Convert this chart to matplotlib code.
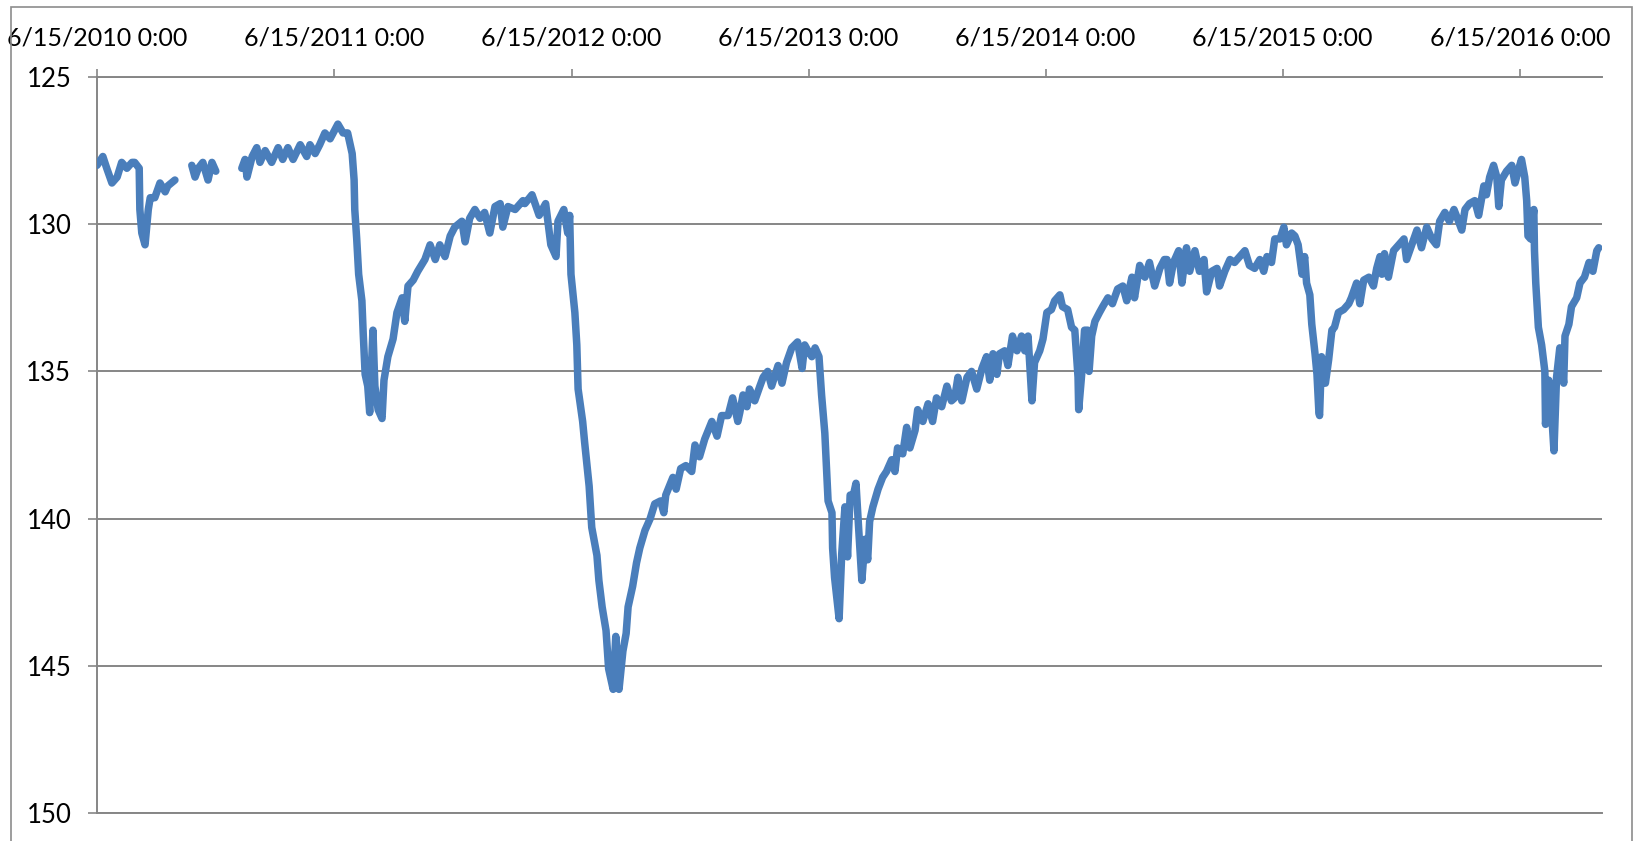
import numpy as np
import pandas as pd
import matplotlib
matplotlib.use('Agg')
import matplotlib.pyplot as plt
import matplotlib.dates as mdates
from matplotlib.patches import Rectangle

# --- Data (Excel serial dates; NaN = gap in record) ---
serial_dates = [
    40344, 40353, 40359, 40367, 40375, 40382, 40390, 40398, 40402, 40409,
    40410, 40413, 40418, 40423, 40426, 40433, 40441, 40449, 40453, 40464,
    40477,
    40490, 40495, 40500, 40507, 40515, 40521, 40527,
    40547,
    40567, 40572, 40575, 40583, 40590, 40595, 40603, 40613, 40623, 40630,
    40638, 40646, 40657, 40667,
    40672, 40680, 40687, 40695, 40703, 40715, 40723, 40730, 40737, 40740,
    40741, 40744, 40747, 40752, 40754, 40757, 40761, 40764, 40769, 40772,
    40777, 40783, 40786, 40792, 40800, 40806, 40814, 40818, 40823, 40831,
    40838, 40849, 40857, 40865, 40872, 40880, 40888, 40895, 40906, 40911,
    40918, 40926, 40934, 40941, 40949, 40957, 40965, 40969, 40977, 40988,
    41000,
    41003, 41014, 41025, 41035, 41043, 41051, 41054, 41063, 41069, 41072,
    41074, 41080, 41083, 41085, 41092, 41095, 41102, 41106, 41114, 41117,
    41122, 41128, 41132, 41139, 41143, 41148, 41154, 41159, 41162, 41169,
    41175, 41180, 41188, 41196, 41203, 41212, 41217, 41220, 41231, 41236,
    41243, 41251, 41260, 41265, 41272, 41280, 41291, 41299, 41306, 41316,
    41323, 41331,
    41334, 41339, 41345, 41349, 41357, 41365, 41370, 41377, 41383, 41393,
    41399, 41406, 41414, 41423, 41430, 41434, 41439, 41445, 41450, 41456,
    41460, 41465, 41468, 41470, 41476, 41477, 41480, 41487, 41491, 41496,
    41500, 41504, 41508, 41513, 41517, 41522, 41527, 41531, 41534, 41539,
    41547, 41554, 41560, 41568, 41573, 41577, 41585, 41591, 41596, 41604,
    41608, 41616, 41624, 41631, 41637, 41645, 41653, 41660,
    41665, 41670, 41676, 41684, 41691, 41699, 41707, 41714, 41719, 41724,
    41730, 41734, 41742, 41747, 41754, 41761, 41768, 41773, 41778, 41781,
    41784, 41788, 41796, 41801, 41807, 41814, 41819, 41827, 41831, 41839,
    41845, 41850, 41855, 41856, 41861, 41865, 41870, 41872, 41876, 41881,
    41888, 41893, 41901, 41908, 41916, 41924, 41930, 41938, 41942, 41950,
    41958, 41965, 41973, 41981, 41988,
    41992, 41996, 42002, 42010, 42015, 42022, 42027, 42035, 42042, 42049,
    42053, 42061, 42069, 42073, 42081, 42089, 42096, 42104, 42112, 42119,
    42127, 42135, 42141, 42146, 42153, 42158, 42166, 42172, 42176, 42184,
    42189, 42194, 42200, 42204, 42207, 42212, 42215, 42220, 42223, 42226,
    42227, 42230, 42233, 42236, 42241, 42246, 42250, 42256, 42264, 42272,
    42276, 42284, 42289, 42295, 42303, 42310, 42315, 42320,
    42323, 42327, 42333, 42341, 42349, 42357, 42361, 42369, 42377, 42384,
    42392, 42400, 42407, 42412, 42420, 42427, 42434, 42441, 42446, 42451,
    42458, 42466, 42472, 42480, 42484, 42489, 42495, 42500, 42503, 42507,
    42515, 42523, 42528, 42534, 42538, 42543, 42546, 42548, 42552, 42557,
    42558, 42560, 42564, 42569, 42574, 42575, 42580, 42583, 42588, 42592,
    42597, 42603, 42605, 42611, 42615, 42623, 42628, 42635, 42642, 42648,
    42654, 42657,
]

values = [
    128.0, 127.7, 128.1, 128.6, 128.4, 127.9, 128.1, 127.9, 127.9, 128.1,
    129.5, 130.3, 130.7, 129.5, 129.1, 129.1, 128.6, 128.9, 128.7, 128.5,
    np.nan,
    128.0, 128.4, 128.1, 127.9, 128.5, 127.9, 128.2,
    np.nan,
    128.1, 127.8, 128.4, 127.7, 127.4, 127.9, 127.5, 127.9, 127.4, 127.8,
    127.4, 127.8, 127.3, 127.7,
    127.3, 127.6, 127.3, 126.9, 127.1, 126.6, 126.9, 126.9, 127.6, 128.5,
    129.5, 130.5, 131.7, 132.6, 133.7, 135.1, 135.5, 136.4, 133.6, 135.5,
    136.3, 136.6, 135.3, 134.5, 133.9, 133.0, 132.5, 133.3, 132.1, 131.9,
    131.6, 131.2, 130.7, 131.2, 130.7, 131.1, 130.4, 130.1, 129.9, 130.6,
    129.8, 129.5, 129.8, 129.6, 130.3, 129.4, 129.3, 130.1, 129.4, 129.5,
    129.2,
    129.3, 129.0, 129.7, 129.3, 130.7, 131.1, 129.9, 129.5, 130.3, 129.7,
    131.7, 133.0, 134.1, 135.6, 136.7, 137.4, 138.9, 140.3, 141.25, 142.1,
    143.0, 143.8, 145.1, 145.8, 144.0, 145.8, 144.5, 143.9, 143.0, 142.3,
    141.5, 141.0, 140.4, 140.0, 139.5, 139.4, 139.8, 139.2, 138.6, 139.0,
    138.3, 138.2, 138.4, 137.5, 137.9, 137.3, 136.7, 137.2, 136.5, 136.5,
    135.9, 136.7,
    136.4, 135.8, 136.2, 135.6, 136.0, 135.5, 135.2, 135.0, 135.5, 134.8,
    135.4, 134.7, 134.2, 134.0, 134.9, 134.1, 134.3, 134.5, 134.2, 134.5,
    135.8, 137.1, 138.5, 139.4, 139.8, 141.0, 142.0, 143.4, 141.2, 139.6,
    141.3, 139.2, 139.3, 138.8, 140.3, 142.1, 140.7, 141.4, 140.1, 139.6,
    139.0, 138.6, 138.4, 138.0, 138.4, 137.6, 137.8, 136.9, 137.6, 137.0,
    136.3, 136.7, 136.1, 136.7, 135.9, 136.2, 135.5, 136.0,
    135.9, 135.2, 136.0, 135.2, 135.0, 135.6, 134.9, 134.5, 135.3, 134.4,
    135.1, 134.4, 134.3, 134.8, 133.8, 134.3, 133.8, 134.3, 133.8, 134.9,
    136.0, 134.7, 134.3, 133.9, 133.0, 132.9, 132.6, 132.4, 132.8, 132.9,
    133.5, 133.6, 135.2, 136.3, 135.0, 133.6, 133.6, 135.0, 133.8, 133.3,
    133.0, 132.8, 132.5, 132.7, 132.2, 132.1, 132.6, 131.8, 132.5, 131.4,
    131.8, 131.3, 132.1, 131.5, 131.2,
    131.2, 132.0, 131.3, 130.9, 132.0, 130.8, 131.6, 130.9, 131.6, 131.2,
    132.3, 131.6, 131.5, 132.1, 131.6, 131.2, 131.3, 131.1, 130.9, 131.4,
    131.5, 131.2, 131.6, 131.1, 131.3, 130.5, 130.5, 130.1, 130.7, 130.3,
    130.4, 130.7, 131.7, 131.1, 132.0, 132.4, 133.4, 134.4, 135.1, 136.4,
    136.5, 134.5, 135.1, 135.4, 134.6, 133.6, 133.5, 133.0, 132.9, 132.7,
    132.5, 132.0, 132.7, 131.9, 131.8, 132.1, 131.5, 131.1,
    131.7, 131.0, 131.8, 130.9, 130.7, 130.5, 131.2, 130.7, 130.2, 130.8,
    130.1, 130.5, 130.7, 129.9, 129.6, 129.9, 129.5, 129.9, 130.2, 129.5,
    129.3, 129.2, 129.7, 128.7, 129.0, 128.4, 128.0, 128.4, 129.4, 128.5,
    128.2, 128.0, 128.6, 128.1, 127.8, 128.4, 129.2, 130.4, 130.5, 129.5,
    130.9, 132.0, 133.5, 134.1, 135.0, 136.8, 135.3, 135.9, 137.7, 135.2,
    134.2, 135.4, 133.8, 133.4, 132.8, 132.5, 132.0, 131.8, 131.3, 131.6,
    130.9, 130.8,
]

tick_dates = ['2010-06-15', '2011-06-15', '2012-06-15', '2013-06-15',
              '2014-06-15', '2015-06-15', '2016-06-15']
x_end = '2016-10-19'
y_ticks = [125, 130, 135, 140, 145, 150]

# --- Style ---
LINE_COLOR = '#4A7EBB'
GRID_COLOR = '#868686'
plt.rcParams['font.family'] = ['Lato', 'DejaVu Sans']


def excel_label(x, pos=None):
    d = mdates.num2date(x)
    return f"{d.month}/{d.day}/{d.year} 0:00"


def main():
    dates = pd.to_datetime(serial_dates, unit='D', origin='1899-12-30')

    fig = plt.figure(figsize=(16.34, 8.41), dpi=100)
    ax = fig.add_axes([97 / 1634, 1 - 813 / 841, (1602 - 97) / 1634, (813 - 77) / 841])

    ax.plot(dates, values, color=LINE_COLOR, linewidth=5.4,
            solid_joinstyle='round', solid_capstyle='round', zorder=3)

    # axes, reversed value axis with the date axis on top
    ax.set_ylim(150, 125)
    ax.set_yticks(y_ticks)
    ax.set_xlim(pd.Timestamp(tick_dates[0]), pd.Timestamp(x_end))
    ax.set_xticks([pd.Timestamp(t) for t in tick_dates])
    ax.xaxis.set_major_formatter(plt.FuncFormatter(excel_label))
    ax.xaxis.tick_top()

    ax.grid(axis='y', color=GRID_COLOR, linewidth=1.4, zorder=1)
    ax.grid(axis='x', visible=False)
    for side in ['top', 'left', 'bottom']:
        ax.spines[side].set_color(GRID_COLOR)
        ax.spines[side].set_linewidth(1.4)
    ax.spines['right'].set_visible(False)

    ax.tick_params(axis='x', direction='out', length=6, width=1.2, color=GRID_COLOR,
                   pad=14, labelsize=18, labelcolor='black')
    ax.tick_params(axis='y', direction='out', length=6.5, width=1.2, color=GRID_COLOR,
                   pad=12, labelsize=18.5, labelcolor='black')

    # chart-area border like Excel
    fig.add_artist(Rectangle((11 / 1634, -0.02), (1632 - 11) / 1634, 1.02 - 7 / 841,
                             transform=fig.transFigure, fill=False,
                             edgecolor='#8C8C8C', linewidth=1.2))

    fig.savefig('out.png', dpi=100)


if __name__ == "__main__":
    main()
